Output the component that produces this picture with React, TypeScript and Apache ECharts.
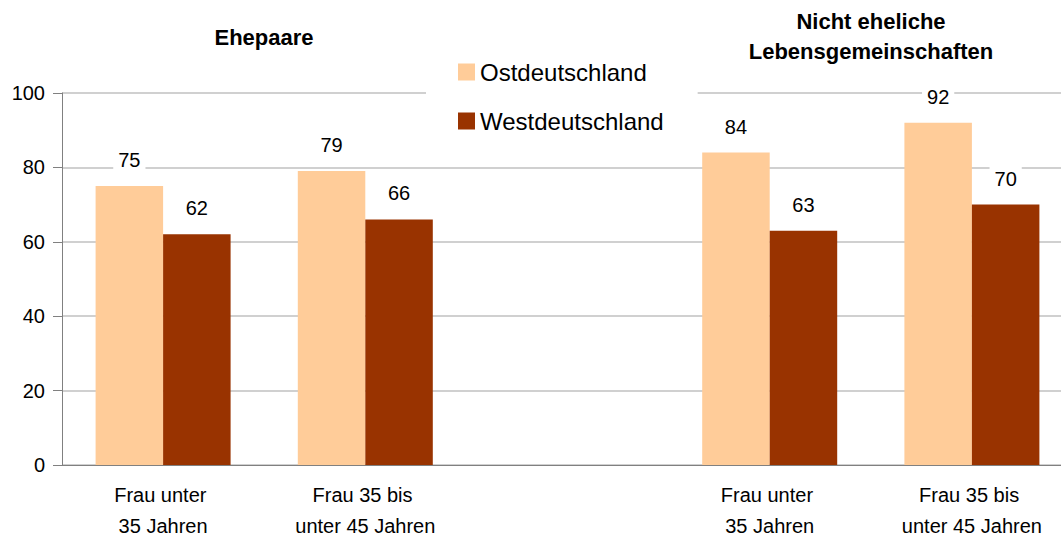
import React, { useEffect, useRef } from "react";
import * as echarts from "echarts";

const categories = ["Frau unter \n35 Jahren", "Frau 35 bis \nunter 45 Jahren", "", "Frau unter \n35 Jahren", "Frau 35 bis \nunter 45 Jahren"];
const seriesNames = ["Ostdeutschland", "Westdeutschland"];
const ostValues: (number | string)[] = [75, 79, "-", 84, 92];
const westValues: (number | string)[] = [62, 66, "-", 63, 70];
const groupTitles = ["Ehepaare", "Nicht eheliche\nLebensgemeinschaften"];
const colors = ["#FFCC99", "#993300"];

const FONT = "'Liberation Sans', Arial, sans-serif";

export default function App() {
  const ref = useRef<HTMLDivElement>(null);
  useEffect(() => {
    if (!ref.current) return;
    const chart = echarts.init(ref.current, undefined, { renderer: "svg" });
    const label = {
      show: true,
      position: "top" as const,
      distance: 14,
      fontSize: 20,
      color: "#000",
      fontFamily: FONT,
      backgroundColor: "#fff",
      padding: [2, 5],
    };
    chart.setOption({
      animation: false,
      textStyle: { fontFamily: FONT },
      title: [
        {
          text: groupTitles[0],
          left: 264,
          top: 22,
          padding: 0,
          textAlign: "center",
          textStyle: { fontSize: 22, fontWeight: "bold", color: "#000", lineHeight: 30, fontFamily: FONT },
        },
        {
          text: groupTitles[1],
          left: 871,
          top: 6,
          padding: 0,
          textAlign: "center",
          textStyle: { fontSize: 22, fontWeight: "bold", color: "#000", lineHeight: 30, fontFamily: FONT },
        },
      ],
      legend: {
        data: seriesNames,
        orient: "vertical",
        left: 426,
        top: 52,
        padding: [8, 34, 8, 32],
        backgroundColor: "#fff",
        icon: "rect",
        itemWidth: 17,
        itemHeight: 17,
        itemGap: 25,
        textStyle: { fontSize: 24, color: "#000", fontFamily: FONT },
      },
      grid: {
        left: 62,
        top: 93,
        width: 1011,
        height: 372,
        containLabel: false,
        outerBoundsMode: "none",
      },
      xAxis: {
        type: "category",
        data: categories,
        axisTick: { show: false },
        axisLine: { show: true, lineStyle: { color: "#808080", width: 1 } },
        axisLabel: { fontSize: 20, color: "#000", lineHeight: 31, margin: 14, interval: 0, fontFamily: FONT },
      },
      yAxis: {
        type: "value",
        min: 0,
        max: 100,
        interval: 20,
        axisLine: { show: true, lineStyle: { color: "#808080", width: 1 } },
        axisTick: { show: true, length: 9, lineStyle: { color: "#808080" } },
        axisLabel: { fontSize: 20, color: "#000", margin: 17, fontFamily: FONT },
        splitLine: { show: true, lineStyle: { color: "#c0c0c0", width: 1.5 } },
      },
      series: [
        {
          name: seriesNames[0],
          type: "bar",
          data: ostValues,
          barWidth: 67.5,
          barGap: "0%",
          itemStyle: { color: colors[0] },
          label,
        },
        {
          name: seriesNames[1],
          type: "bar",
          data: westValues,
          barWidth: 67.5,
          barGap: "0%",
          itemStyle: { color: colors[1] },
          label,
        },
      ],
    });
    return () => chart.dispose();
  }, []);
  return (
    <div
      ref={ref}
      style={{ position: "fixed", left: 0, top: 0, width: 1061, height: 541, background: "#fff" }}
    />
  );
}
